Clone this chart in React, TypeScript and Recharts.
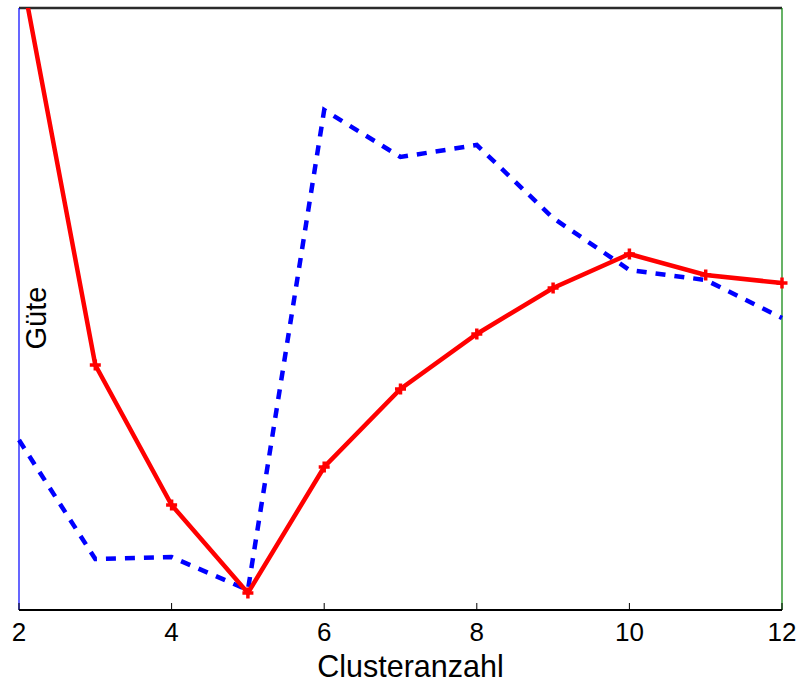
import React from "react";
import { LineChart, Line, XAxis, YAxis, ReferenceLine } from "recharts";

// Clusteranzahl (number of clusters)
const CLUSTERS = [2, 3, 4, 5, 6, 7, 8, 9, 10, 11, 12];
// quality curves, arbitrary units (no y ticks in the original)
const SOLID_RED = [650, 245, 105, 17, 143, 221, 276, 322, 356, 335, 327];
const DASHED_BLUE = [170, 51, 53, 20, 500, 453, 465, 392, 340, 330, 292];
const X_TICKS = [2, 4, 6, 8, 10, 12];

const FONT = '"Liberation Sans", Arial, Helvetica, sans-serif';

const data = CLUSTERS.map((c, i) => ({ k: c, red: SOLID_RED[i], blue: DASHED_BLUE[i] }));

function PlusDot(props: any) {
  const { cx, cy } = props;
  if (cx == null || cy == null) return null;
  return (
    <g>
      <line x1={cx - 5.5} y1={cy} x2={cx + 5.5} y2={cy} stroke="#ff0000" strokeWidth={3.5} />
      <line x1={cx} y1={cy - 5.5} x2={cx} y2={cy + 5.5} stroke="#ff0000" strokeWidth={3.5} />
    </g>
  );
}

function XTick(props: any) {
  const { x, y, payload } = props;
  return (
    <g>
      <line x1={x} y1={y} x2={x} y2={y - 7} stroke="#000" strokeWidth={1} />
      <text x={x} y={y + 31} textAnchor="middle" fontSize={26} fontFamily={FONT} fill="#000">
        {payload.value}
      </text>
    </g>
  );
}

// y-axis title drawn beside the left (blue) axis line
function GueteLabel(props: any) {
  const vb = props.viewBox || { x: 19, y: 8, height: 602 };
  const x = vb.x + 17;
  const y = vb.y + vb.height / 2 + 9;
  return (
    <text
      x={x}
      y={y}
      transform={`rotate(-90 ${x} ${y})`}
      textAnchor="middle"
      dominantBaseline="central"
      fontSize={29}
      fontFamily={FONT}
      fill="#000"
    >
      Güte
    </text>
  );
}

export default function App() {
  return (
    <div style={{ position: "absolute", left: 0, top: 0, background: "#fff" }}>
      <LineChart
        width={799}
        height={682}
        data={data}
        margin={{ top: 8, right: 17, left: 19, bottom: 0 }}
      >
        <XAxis
          dataKey="k"
          type="number"
          domain={[2, 12]}
          ticks={X_TICKS}
          height={72}
          tickSize={0}
          tickMargin={0}
          tickLine={false}
          axisLine={{ stroke: "#000", strokeWidth: 2 }}
          tick={<XTick />}
          label={{
            value: "Clusteranzahl",
            position: "insideBottom",
            offset: 5,
            dx: 10,
            style: { fontSize: 30.5, fontFamily: FONT, fill: "#000" },
          }}
        />
        <YAxis hide domain={[0, 602]} allowDataOverflow />
        <ReferenceLine y={602} stroke="#2b2b2b" strokeWidth={2.5} />
        <ReferenceLine x={2} stroke="#0000ff" strokeWidth={1.2} label={<GueteLabel />} />
        <ReferenceLine x={12} stroke="#008000" strokeWidth={1.2} />
        <Line
          dataKey="blue"
          type="linear"
          stroke="#0000ff"
          strokeWidth={4.5}
          strokeDasharray="10 9"
          dot={false}
          isAnimationActive={false}
        />
        <Line
          dataKey="red"
          type="linear"
          stroke="#ff0000"
          strokeWidth={4.5}
          dot={<PlusDot />}
          isAnimationActive={false}
        />
      </LineChart>
    </div>
  );
}
